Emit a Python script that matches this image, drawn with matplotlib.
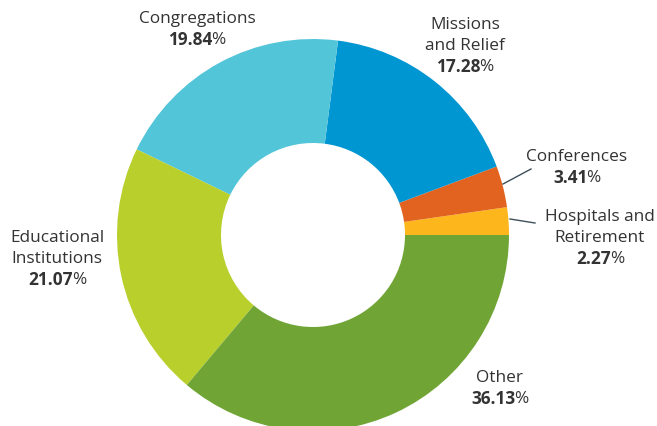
import matplotlib
matplotlib.use("Agg")
import matplotlib.pyplot as plt

# ---------------------------------------------------------------- data --
categories = ["Hospitals and\nRetirement", "Conferences", "Missions\nand Relief",
              "Congregations", "Educational\nInstitutions", "Other"]
shares = [2.27, 3.41, 17.28, 19.84, 21.07, 36.13]
colors = ["#FDB61B", "#E2631F", "#0096D2", "#52C5D9", "#B9CF2B", "#70A536"]

# label anchor (x centre, y of first line) in pixel space, top-left origin
label_pos = [(600, 217), (577, 157), (465, 25), (197, 19), (57, 238), (500, 378)]
leaders = {0: ((510, 220), (535, 224)), 1: ((503, 185), (531, 170))}

W, H = 657, 427
TXT = "#333333"
plt.rcParams["font.family"] = ["Open Sans", "DejaVu Sans"]

fig = plt.figure(figsize=(W / 100, H / 100), dpi=100)
ax = fig.add_axes([0, 0, 1, 1])

R, hole = 196, 92
ax.pie(shares, colors=colors, startangle=0, counterclock=True,
       center=(313, H - 236), radius=R, frame=True,
       wedgeprops=dict(width=R - hole, linewidth=0))
ax.set_xlim(0, W)
ax.set_ylim(0, H)
ax.set_aspect("equal")
ax.axis("off")

fs, lh = 12.4, 21
pct_pairs = []
for i, (name, val) in enumerate(zip(categories, shares)):
    x, y0 = label_pos[i]
    lines = name.split("\n")
    for k, ln in enumerate(lines):
        ax.text(x, H - (y0 + k * lh), ln, ha="center", va="center",
                fontsize=fs, color=TXT)
    yp = H - (y0 + len(lines) * lh)
    t1 = ax.text(x, yp, f"{val:.2f}", ha="left", va="center",
                 fontsize=fs, color=TXT, fontweight="bold")
    t2 = ax.text(x, yp, "%", ha="left", va="center", fontsize=fs, color=TXT)
    pct_pairs.append((x, t1, t2))

for i, ((x1, y1), (x2, y2)) in leaders.items():
    ax.plot([x1, x2], [H - y1, H - y2], color="#3D4F5A", lw=1)

# centre "number%" lines: bold number followed by regular percent sign
fig.canvas.draw()
r = fig.canvas.get_renderer()
for x, t1, t2 in pct_pairs:
    w1 = t1.get_window_extent(r).width
    w2 = t2.get_window_extent(r).width
    gap = -1
    left = x - (w1 + w2 + gap) / 2
    t1.set_x(left)
    t2.set_x(left + w1 + gap)

fig.savefig("out.png", dpi=100)
